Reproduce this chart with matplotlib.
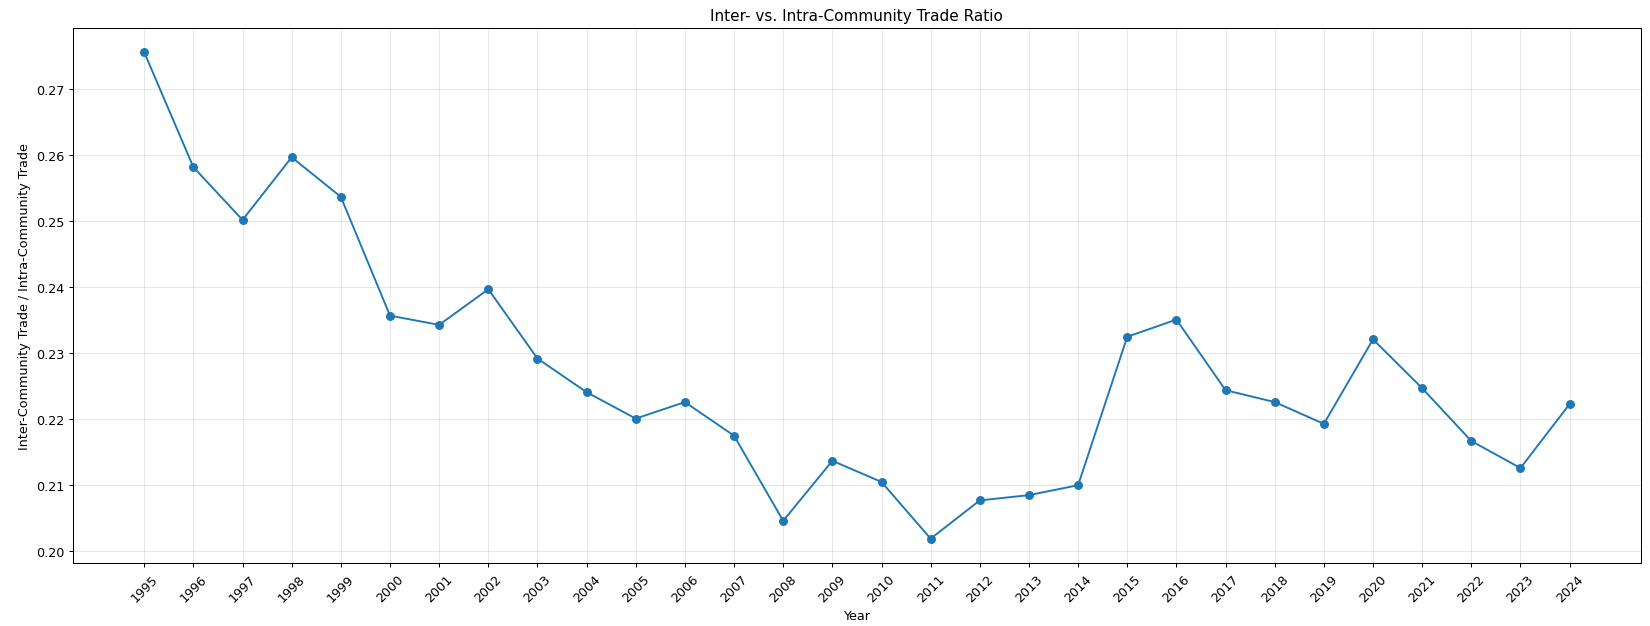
import numpy as np
import matplotlib.pyplot as plt

years = list(range(1995, 2025))
ratio = [0.2756, 0.2582, 0.2502, 0.2597, 0.2537, 0.2357, 0.2343, 0.2397,
         0.2292, 0.2241, 0.2201, 0.2226, 0.2175, 0.2046, 0.2137, 0.2105,
         0.2019, 0.2077, 0.2085, 0.2100, 0.2325, 0.2351, 0.2244, 0.2226,
         0.2193, 0.2321, 0.2247, 0.2167, 0.2126, 0.2223]

fig, ax = plt.subplots(figsize=(18, 6.836), dpi=91.72)
ax.plot(years, ratio, marker='o', color='#1f77b4')
ax.set_title('Inter- vs. Intra-Community Trade Ratio')
ax.set_xlabel('Year')
ax.set_ylabel('Inter-Community Trade / Intra-Community Trade')
ax.set_xticks(years)
ax.set_xticklabels([str(y) for y in years], rotation=45)
ax.grid(True, alpha=0.3)
fig.subplots_adjust(left=0.0442, right=0.9939, top=0.9537, bottom=0.1005)
fig.savefig('out.png')
